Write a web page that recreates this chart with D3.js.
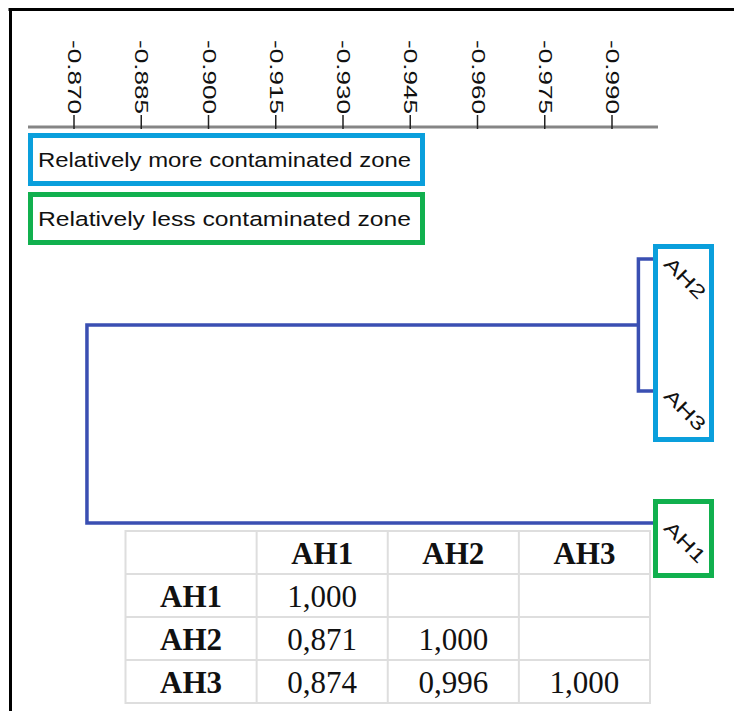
<!DOCTYPE html>
<html>
<head>
<meta charset="utf-8">
<script src="https://cdn.jsdelivr.net/npm/d3@7"></script>
<style>
  html, body { margin: 0; padding: 0; background: #fff; }
  svg { display: block; }
</style>
</head>
<body>
<svg id="chart" width="734" height="711"></svg>
<script>
// ---- data ----
const tickValues = [0.870, 0.885, 0.900, 0.915, 0.930, 0.945, 0.960, 0.975, 0.990];
const tickLabels = ["-0.870", "-0.885", "-0.900", "-0.915", "-0.930", "-0.945", "-0.960", "-0.975", "-0.990"];
const leaves = ["AH2", "AH3", "AH1"];
const leafLevel = 1.000;
// merges: [left, right, similarity]
const merges = [
  ["AH2", "AH3", 0.996],
  ["AH2+AH3", "AH1", 0.873]
];
const zoneLabels = ["Relatively more contaminated zone", "Relatively less contaminated zone"];
const zoneGroups = [["AH2", "AH3"], ["AH1"]];
const tableNames = ["AH1", "AH2", "AH3"];
const tableValues = [
  [1.000],
  [0.871, 1.000],
  [0.874, 0.996, 1.000]
];

// ---- styles ----
const BLUE = "#0a9fdc";
const GREEN = "#11b04e";
const LINE = "#3a4fb2";

const svg = d3.select("#chart");

// frame (top + left)
svg.append("line").attr("x1", 8.5).attr("x2", 734).attr("y1", 9.5).attr("y2", 9.5)
  .attr("stroke", "#000").attr("stroke-width", 3);
svg.append("line").attr("x1", 10.5).attr("x2", 10.5).attr("y1", 8).attr("y2", 711)
  .attr("stroke", "#000").attr("stroke-width", 3);

// scales
const x = d3.scaleLinear().domain([0.870, 0.990]).range([73.5, 611.5]);
const y = d3.scalePoint().domain(leaves).range([259, 523]);

// axis
const axisY = 127;
svg.append("line").attr("x1", 28).attr("x2", 658).attr("y1", axisY).attr("y2", axisY)
  .attr("stroke", "#858585").attr("stroke-width", 3);
const axis = d3.axisTop(x).tickValues(tickValues)
  .tickFormat((d, i) => tickLabels[i]).tickSize(14).tickPadding(0);
const ag = svg.append("g").attr("transform", `translate(0,${axisY + 2})`).call(axis);
ag.select(".domain").remove();
ag.selectAll(".tick line").attr("stroke", "#222").attr("stroke-width", 1.5);
ag.selectAll(".tick text")
  .attr("transform", "rotate(90)")
  .attr("x", -89).attr("y", 0).attr("dy", null)
  .attr("text-anchor", "start")
  .attr("dominant-baseline", "central")
  .attr("font-family", "'Liberation Sans', Arial, sans-serif")
  .attr("font-size", 17.5)
  .attr("fill", "#111")
  .attr("textLength", 74)
  .attr("lengthAdjust", "spacingAndGlyphs");

// zone legend boxes
const legendY = [135.5, 194.5];
zoneLabels.forEach((lab, i) => {
  svg.append("rect").attr("x", 30.5).attr("y", legendY[i]).attr("width", 392).attr("height", 48)
    .attr("fill", "none").attr("stroke", i === 0 ? BLUE : GREEN).attr("stroke-width", 5);
  svg.append("text").attr("x", 38).attr("y", legendY[i] + 31)
    .attr("font-family", "'Liberation Sans', Arial, sans-serif")
    .attr("font-size", 20.5).attr("fill", "#111")
    .attr("textLength", 373).attr("lengthAdjust", "spacingAndGlyphs")
    .text(lab);
});

// dendrogram
const nodes = {};
leaves.forEach(l => nodes[l] = { x: x(leafLevel), y: y(l) });
const g = svg.append("g").attr("fill", "none").attr("stroke", LINE).attr("stroke-width", 3.5);
merges.forEach(([a, b, s]) => {
  const na = nodes[a], nb = nodes[b];
  const mx = x(s);
  g.append("path").attr("d",
    `M${na.x},${na.y}H${mx}V${nb.y}H${nb.x}`);
  nodes[a + "+" + b] = { x: mx, y: (na.y + nb.y) / 2 };
});

// leaf boxes
zoneGroups.forEach((grp, i) => {
  const ys = grp.map(l => y(l));
  const bot = d3.max(ys) + (i === 0 ? 48.5 : 52.5);
  const t2 = i === 0 ? d3.min(ys) - 12.5 : d3.min(ys) - 21.5;
  svg.append("rect").attr("x", 655.5).attr("y", t2).attr("width", 56).attr("height", bot - t2)
    .attr("fill", "#fff").attr("stroke", i === 0 ? BLUE : GREEN).attr("stroke-width", 5);
});
leaves.forEach(l => {
  svg.append("text")
    .attr("transform", `translate(685,${y(l) + 19}) rotate(45)`)
    .attr("text-anchor", "middle").attr("dominant-baseline", "central")
    .attr("font-family", "'Liberation Sans', Arial, sans-serif")
    .attr("font-size", 19).attr("fill", "#111")
    .attr("textLength", 50).attr("lengthAdjust", "spacingAndGlyphs")
    .text(l);
});

// similarity table
const cols = d3.scaleBand().domain(["", ...tableNames]).range([125.5, 650]);
const rows = d3.scaleBand().domain(["", ...tableNames]).range([531, 703]);
const tg = svg.append("g");
tg.append("rect").attr("x", 125.5).attr("y", 531).attr("width", 650 - 125.5).attr("height", 703 - 531)
  .attr("fill", "#fff").attr("stroke", "#dedede").attr("stroke-width", 2);
cols.domain().slice(1).forEach(c => {
  tg.append("line").attr("x1", cols(c)).attr("x2", cols(c)).attr("y1", 531).attr("y2", 703)
    .attr("stroke", "#dedede").attr("stroke-width", 2);
});
rows.domain().slice(1).forEach(r => {
  tg.append("line").attr("x1", 125.5).attr("x2", 650).attr("y1", rows(r)).attr("y2", rows(r))
    .attr("stroke", "#dedede").attr("stroke-width", 2);
});
const serif = "'Liberation Serif', 'Times New Roman', serif";
const fmt = v => d3.format(".3f")(v).replace(".", ",");
const cellText = (cx, ry, txt, bold) => {
  tg.append("text")
    .attr("x", cols(cx) + cols.bandwidth() / 2)
    .attr("y", rows(ry) + rows.bandwidth() / 2 + 11)
    .attr("text-anchor", "middle")
    .attr("font-family", serif).attr("font-size", 31)
    .attr("font-weight", bold ? "bold" : "normal")
    .attr("fill", "#111")
    .text(txt);
};
tableNames.forEach(n => { cellText(n, "", n, true); cellText("", n, n, true); });
tableValues.forEach((row, i) => {
  row.forEach((v, j) => cellText(tableNames[j], tableNames[i], fmt(v), false));
});
</script>
</body>
</html>
